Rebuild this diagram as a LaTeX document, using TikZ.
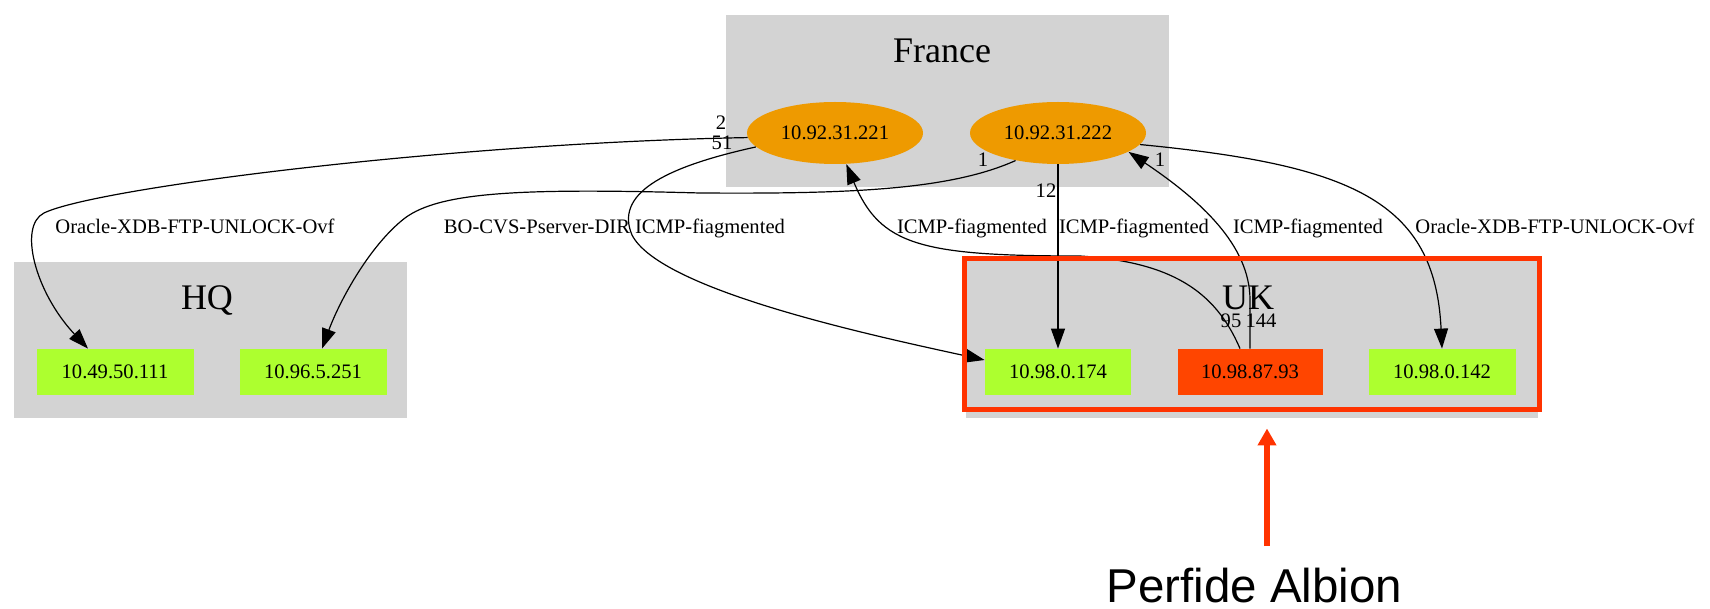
\documentclass[tikz,border=0pt]{standalone}
\usepackage{fontspec}
\setmainfont{Liberation Serif}
\newfontfamily\calloutfont{Liberation Sans}
\usetikzlibrary{arrows.meta,shapes.geometric,calc}

\definecolor{clustergray}{HTML}{D3D3D3}
\definecolor{hostgreen}{HTML}{ADFF2F}
\definecolor{hostorange}{HTML}{EE9A00}
\definecolor{hostred}{HTML}{FF4500}
\definecolor{markred}{HTML}{FF3300}

\begin{document}
\begin{tikzpicture}[x=0.5pt,y=-0.5pt,
  cluster/.style={fill=clustergray},
  clustertitle/.style={font=\fontsize{18}{20}\selectfont, inner sep=0, anchor=base},
  host/.style={rectangle, fill=hostgreen, minimum height=23pt, inner sep=0,
    font=\fontsize{10.3}{12}\selectfont},
  gateway/.style={ellipse, fill=hostorange, minimum width=88pt, minimum height=31pt,
    inner sep=0, font=\fontsize{10.3}{12}\selectfont},
  flow/.style={draw=black, line width=0.6pt, -{Triangle[length=10pt,width=7pt]}},
  flowlabel/.style={font=\fontsize{10.3}{12}\selectfont, inner sep=0, anchor=base},
]
\useasboundingbox (0,0) rectangle (1710,609);

% clusters
\fill[cluster] (726,15) rectangle (1169,187);
\fill[cluster] (14,262) rectangle (407,418);
\fill[cluster] (966,259) rectangle (1538,418);

\node[clustertitle] (france) at (942,63) {France};
\node[clustertitle] (hq) at (207,310) {HQ};
\node[clustertitle] (uk) at (1248,310) {UK};

% hosts
\node[gateway] (A) at (835,133) {10.92.31.221};
\node[gateway] (B) at (1058,133) {10.92.31.222};
\node[host, minimum width=78.5pt] (h1) at (115,372) {10.49.50.111};
\node[host, minimum width=73.5pt] (h2) at (313,372) {10.96.5.251};
\node[host, minimum width=73pt] (u1) at (1058,372) {10.98.0.174};
\node[host, minimum width=72.5pt, fill=hostred] (u2) at (1250,372) {10.98.87.93};
\node[host, minimum width=73.5pt] (u3) at (1442,372) {10.98.0.142};

% flows
\draw[flow] (A.183) .. controls (450,143) and (95,188) .. (44,213)
  .. controls (18,226) and (35,292) .. ($(h1.north)+(-27,0)$);
\draw[flow] (A.190) .. controls (660,168) and (615,195) .. (632,235)
  .. controls (660,290) and (870,335) .. ($(u1.west)+(0,-12)$);
\draw[flow] (B.213) .. controls (950,190) and (850,194) .. (700,193)
  .. controls (520,188) and (440,192) .. (405,218)
  .. controls (370,245) and (340,300) .. ($(h2.north)+(9,0)$);
\draw[flow] ($(u2.north)+(-10,0)$) .. controls (1215,290) and (1170,262) .. (1080,256)
  .. controls (920,256) and (880,245) .. (A.290);
\draw[flow] (B.south) -- (u1.north);
\draw[flow] (u2.north) -- (1250,300) .. controls (1250,245) and (1200,200) .. (B.345);
\draw[flow] (B.352) .. controls (1350,165) and (1435,200) .. (u3.north);

% flow labels
\node[flowlabel] (l1) at (195,234) {Oracle-XDB-FTP-UNLOCK-Ovf};
\node[flowlabel] (l2) at (537,234) {BO-CVS-Pserver-DIR};
\node[flowlabel] (l3) at (710,234) {ICMP-fiagmented};
\node[flowlabel] (l4) at (972,234) {ICMP-fiagmented};
\node[flowlabel] (l5) at (1134,234) {ICMP-fiagmented};
\node[flowlabel] (l6) at (1308,234) {ICMP-fiagmented};
\node[flowlabel] (l7) at (1555,234) {Oracle-XDB-FTP-UNLOCK-Ovf};

% end labels
\node[flowlabel] (t1) at (721,130) {2};
\node[flowlabel] (t2) at (722,150) {51};
\node[flowlabel] (t3) at (983,167) {1};
\node[flowlabel] (t4) at (1046,198) {12};
\node[flowlabel] (t5) at (1160,167) {1};
\node[flowlabel] (t6) at (1231,328) {95};
\node[flowlabel] (t7) at (1261,328) {144};

% callout
\node[draw=markred, line width=2.5pt, minimum width=287.25pt, minimum height=75.5pt,
  inner sep=0] (ukmark) at (1251.75,334.5) {};
\node[font=\calloutfont\fontsize{23.75}{28}\selectfont, inner sep=0, anchor=base]
  (albion) at (1254.5,602) {Perfide Albion};
\coordinate (calloutfoot) at (1267,546);
\draw[markred, line width=3pt, -{Triangle[length=8.5pt,width=9pt]}]
  (calloutfoot) -- ($(ukmark.south -| calloutfoot)+(0,16)$);
\end{tikzpicture}
\end{document}
